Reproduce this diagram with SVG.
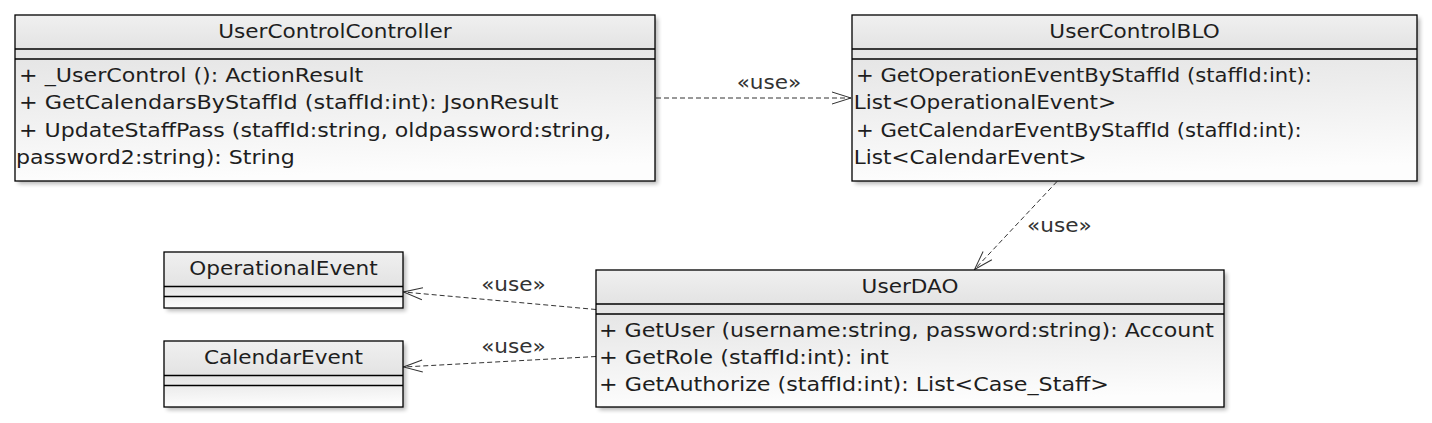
<svg xmlns="http://www.w3.org/2000/svg" width="1432" height="423" viewBox="0 0 1432 423">
<style>
  text { font-family: "DejaVu Sans", Verdana, sans-serif; font-size: 19px; fill: #1e1e1e; }
  .t { text-anchor: middle; }
  .lbl { fill: #333; }
  .box { stroke: #000; stroke-width: 1.3; }
  .sep { stroke: #000; stroke-width: 1.3; }
  .hd { fill: url(#gHead); }
  .bd { fill: url(#gBody); }
  .sh { fill: #000; opacity: 0.28; filter: url(#blur); }
  .dep { fill: none; stroke: #333; stroke-width: 1; stroke-dasharray: 5 3; marker-end: url(#open); }
</style>
<defs>
  <linearGradient id="gHead" x1="0" y1="0" x2="0" y2="1">
    <stop offset="0" stop-color="#f0f0f0"/>
    <stop offset="1" stop-color="#e3e3e3"/>
  </linearGradient>
  <linearGradient id="gBody" x1="0" y1="0" x2="0.15" y2="1">
    <stop offset="0" stop-color="#e4e4e4"/>
    <stop offset="0.35" stop-color="#ececec"/>
    <stop offset="1" stop-color="#fdfdfd"/>
  </linearGradient>
  <filter id="blur" x="-10%" y="-10%" width="120%" height="130%">
    <feGaussianBlur stdDeviation="2"/>
  </filter>
  <marker id="open" markerUnits="userSpaceOnUse" markerWidth="24" markerHeight="16" viewBox="-21 -8 24 16" refX="0" refY="0" orient="auto" overflow="visible">
    <path d="M -19 -6 L 0 0 L -19 6" fill="none" stroke="#333" stroke-width="1"/>
  </marker>
</defs>

<g id="connectors">
  <path class="dep" d="M 656 98 L 851 98"/>
  <text class="lbl t" transform="scale(1.137 1)" x="676.3" y="89">«use»</text>
  <path class="dep" d="M 1057 181.5 L 974.5 269.5"/>
  <text class="lbl" transform="scale(1.137 1)" x="903.3" y="232">«use»</text>
  <path class="dep" d="M 596 309.5 L 403.5 292"/>
  <text class="lbl t" transform="scale(1.137 1)" x="451.6" y="291">«use»</text>
  <path class="dep" d="M 596 356.5 L 403.5 367"/>
  <text class="lbl t" transform="scale(1.137 1)" x="451.6" y="353">«use»</text>
</g>

<g id="UserControlController">
  <rect class="sh" x="18" y="18" width="640" height="166"/>
  <rect class="hd" x="15" y="15" width="640" height="34"/>
  <rect class="bd" x="15" y="49" width="640" height="132"/>
  <rect class="box" x="15" y="15" width="640" height="166" fill="none"/>
  <line class="sep" x1="15" y1="49" x2="655" y2="49"/>
  <line class="sep" x1="15" y1="59" x2="655" y2="59"/>
  <text class="t" transform="scale(1.137 1)" x="294.6" y="38">UserControlController</text>
  <text transform="scale(1.168 1)" x="16.27" y="82">+ _UserControl (): ActionResult</text>
  <text transform="scale(1.175 1)" x="16.17" y="109.5">+ GetCalendarsByStaffId (staffId:int): JsonResult</text>
  <text transform="scale(1.163 1)" x="16.34" y="137">+ UpdateStaffPass (staffId:string, oldpassword:string,</text>
  <text transform="scale(1.163 1)" x="13.76" y="164">password2:string): String</text>
</g>

<g id="UserControlBLO">
  <rect class="sh" x="855" y="18" width="565" height="166"/>
  <rect class="hd" x="852" y="15" width="565" height="34"/>
  <rect class="bd" x="852" y="49" width="565" height="132"/>
  <rect class="box" x="852" y="15" width="565" height="166" fill="none"/>
  <line class="sep" x1="852" y1="49" x2="1417" y2="49"/>
  <line class="sep" x1="852" y1="59" x2="1417" y2="59"/>
  <text class="t" transform="scale(1.137 1)" x="997.8" y="38">UserControlBLO</text>
  <text transform="scale(1.115 1)" x="767.7" y="82">+ GetOperationEventByStaffId (staffId:int):</text>
  <text transform="scale(1.137 1)" x="750.9" y="109.5">List&lt;OperationalEvent&gt;</text>
  <text transform="scale(1.115 1)" x="767.7" y="137">+ GetCalendarEventByStaffId (staffId:int):</text>
  <text transform="scale(1.137 1)" x="750.9" y="164">List&lt;CalendarEvent&gt;</text>
</g>

<g id="OperationalEvent">
  <rect class="sh" x="167" y="255" width="239" height="56"/>
  <rect class="hd" x="164" y="252" width="239" height="34.5"/>
  <rect class="bd" x="164" y="286.5" width="239" height="21.5"/>
  <rect class="box" x="164" y="252" width="239" height="56" fill="none"/>
  <line class="sep" x1="164" y1="286.5" x2="403" y2="286.5"/>
  <line class="sep" x1="164" y1="296.5" x2="403" y2="296.5"/>
  <text class="t" transform="scale(1.137 1)" x="249.3" y="275">OperationalEvent</text>
</g>

<g id="CalendarEvent">
  <rect class="sh" x="167" y="344" width="239" height="66"/>
  <rect class="hd" x="164" y="341" width="239" height="34.5"/>
  <rect class="bd" x="164" y="375.5" width="239" height="31.5"/>
  <rect class="box" x="164" y="341" width="239" height="66" fill="none"/>
  <line class="sep" x1="164" y1="375.5" x2="403" y2="375.5"/>
  <line class="sep" x1="164" y1="385.5" x2="403" y2="385.5"/>
  <text class="t" transform="scale(1.137 1)" x="249.3" y="364">CalendarEvent</text>
</g>

<g id="UserDAO">
  <rect class="sh" x="599" y="273" width="628" height="137"/>
  <rect class="hd" x="596" y="270" width="628" height="34"/>
  <rect class="bd" x="596" y="304" width="628" height="103"/>
  <rect class="box" x="596" y="270" width="628" height="137" fill="none"/>
  <line class="sep" x1="596" y1="304" x2="1224" y2="304"/>
  <line class="sep" x1="596" y1="314" x2="1224" y2="314"/>
  <text class="t" transform="scale(1.137 1)" x="800.4" y="293">UserDAO</text>
  <text transform="scale(1.165 1)" x="514.2" y="337">+ GetUser (username:string, password:string): Account</text>
  <text transform="scale(1.18 1)" x="507.6" y="364">+ GetRole (staffId:int): int</text>
  <text transform="scale(1.17 1)" x="512.0" y="391">+ GetAuthorize (staffId:int): List&lt;Case_Staff&gt;</text>
</g>
</svg>
